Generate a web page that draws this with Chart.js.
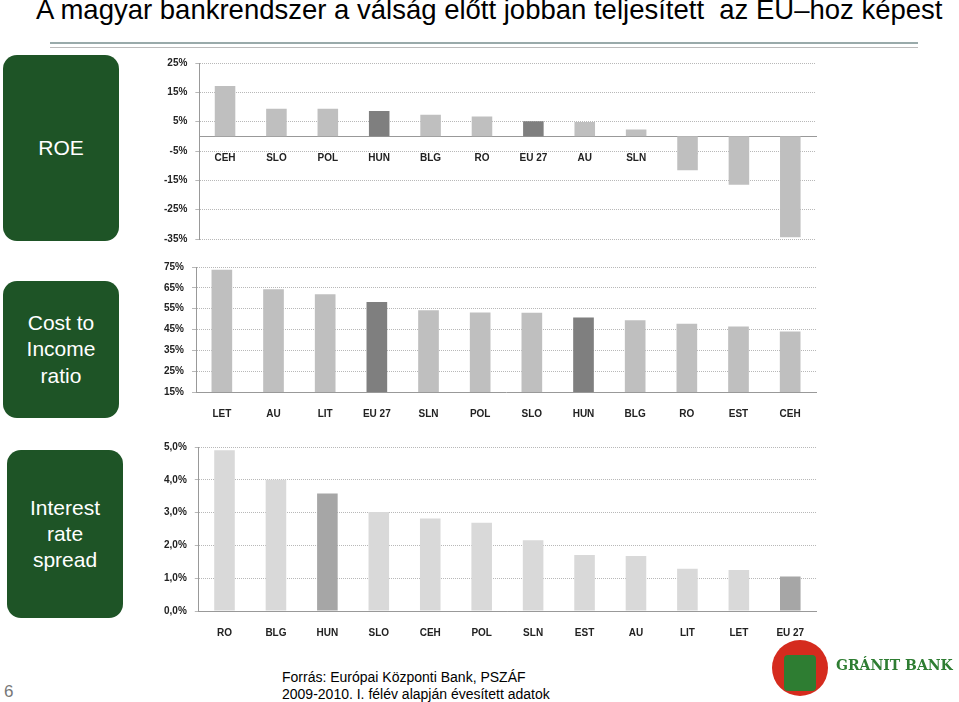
<!DOCTYPE html>
<html><head><meta charset="utf-8">
<script src="https://cdn.jsdelivr.net/npm/chart.js@4.4.0/dist/chart.umd.min.js"></script>
<style>
body{margin:0;width:959px;height:702px;background:#fff;position:relative;overflow:hidden;font-family:"Liberation Sans",Arial,sans-serif}
.title{position:absolute;left:36px;top:-6px;font-size:27.5px;color:#000;white-space:nowrap}
.rule{position:absolute;left:50px;top:42px;width:868px;height:3px;border-top:2px solid #9aa;border-bottom:1px solid #bbb}
.box{position:absolute;background:#1e5426;border-radius:14px;color:#fff;font-size:21px;display:flex;align-items:center;justify-content:center;text-align:center;line-height:1.25}
.c{position:absolute}
.src{position:absolute;left:282px;top:669px;font-size:14px;line-height:17px}
.pg{position:absolute;left:4px;top:682px;font-size:17px;color:#777}
.logo{position:absolute;left:836px;top:657px;color:#2e7d32;font-weight:bold;font-family:"DejaVu Serif",serif;font-size:14px;white-space:nowrap}
.mark{position:absolute;left:772px;top:640px;width:56px;height:56px;border-radius:50%;background:#d52b1e}
.mark2{position:absolute;left:784px;top:655px;width:32px;height:36px;background:#2e7d32;border-radius:4px}
</style></head><body>
<div class="title">A magyar bankrendszer a válság előtt jobban teljesített&nbsp; az EU–hoz képest</div>
<div class="rule"></div>
<div class="box" style="left:3px;top:55px;width:116px;height:186px">ROE</div>
<div class="box" style="left:3px;top:281px;width:116px;height:137px">Cost to<br>Income<br>ratio</div>
<div class="box" style="left:7px;top:450px;width:116px;height:168px">Interest<br>rate<br>spread</div>
<div class="c" style="left:150px;top:49px;width:670px;height:204px"><canvas id="c1"></canvas></div>
<div class="c" style="left:150px;top:253px;width:670px;height:175px"><canvas id="c2"></canvas></div>
<div class="c" style="left:150px;top:433px;width:670px;height:214px"><canvas id="c3"></canvas></div>
<div class="pg">6</div>
<div class="src">Forrás: Európai Központi Bank, PSZÁF<br>2009-2010. I. félév alapján évesített adatok</div>
<div class="mark"></div><div class="mark2"></div>
<div class="logo">GRÁNIT BANK</div>
<script>
const roeLabels = ['CEH','SLO','POL','HUN','BLG','RO','EU 27','AU','SLN','EST','LIT','LET'];
const roeValues = [17.2, 9.4, 9.4, 8.6, 7.4, 6.8, 5.1, 4.9, 2.3, -11.6, -16.5, -34.4];
const ciLabels = ['LET','AU','LIT','EU 27','SLN','POL','SLO','HUN','BLG','RO','EST','CEH'];
const ciValues = [73.7, 64.3, 61.9, 58.2, 54.2, 53.2, 53.1, 50.8, 49.4, 47.8, 46.4, 44.0];
const irsLabels = ['RO','BLG','HUN','SLO','CEH','POL','SLN','EST','AU','LIT','LET','EU 27'];
const irsValues = [4.9, 4.0, 3.58, 3.02, 2.82, 2.69, 2.16, 1.71, 1.68, 1.29, 1.25, 1.05];

const tickFont = { family: 'Liberation Sans', size: 10, weight: 'bold' };
function make(id, labels, values, colors, y, zeroAxis) {
    const x = { grid: { display: false }, border: { color: '#999' },
        ticks: { color: '#222', font: tickFont, padding: 8 } };
    if (zeroAxis) x.position = { y: 0 };
    new Chart(document.getElementById(id), {
        type: 'bar',
        data: { labels, datasets: [{ data: values, backgroundColor: colors, barPercentage: 0.4, categoryPercentage: 1 }] },
        options: {
            responsive: true, maintainAspectRatio: false, animation: false,
            layout: { padding: { left: 6, right: 4, top: 6 } },
            plugins: { legend: { display: false }, tooltip: { enabled: false } },
            scales: {
                x,
                y: Object.assign({ border: { color: '#999', dash: [1, 1] },
                    grid: { color: '#b8b8b8', tickLength: 4 } }, y)
            }
        }
    });
}
const light = '#bfbfbf', dark = '#7f7f7f';
const pct = v => v + '%';
make('c1', roeLabels, roeValues, roeLabels.map(l => (l === 'HUN' || l === 'EU 27') ? dark : light),
    { min: -35, max: 25, ticks: { stepSize: 10, color: '#222', font: tickFont, padding: 8, callback: pct } }, true);
make('c2', ciLabels, ciValues, ciLabels.map(l => (l === 'HUN' || l === 'EU 27') ? dark : light),
    { min: 15, max: 75, ticks: { stepSize: 10, color: '#222', font: tickFont, padding: 8, callback: pct } }, false);
make('c3', irsLabels, irsValues, irsLabels.map(l => (l === 'HUN' || l === 'EU 27') ? '#a6a6a6' : '#d9d9d9'),
    { min: 0, max: 5, ticks: { stepSize: 1, color: '#222', font: tickFont, padding: 8, callback: v => v.toFixed(1).replace('.', ',') + '%' } }, false);
</script>
</body></html>
